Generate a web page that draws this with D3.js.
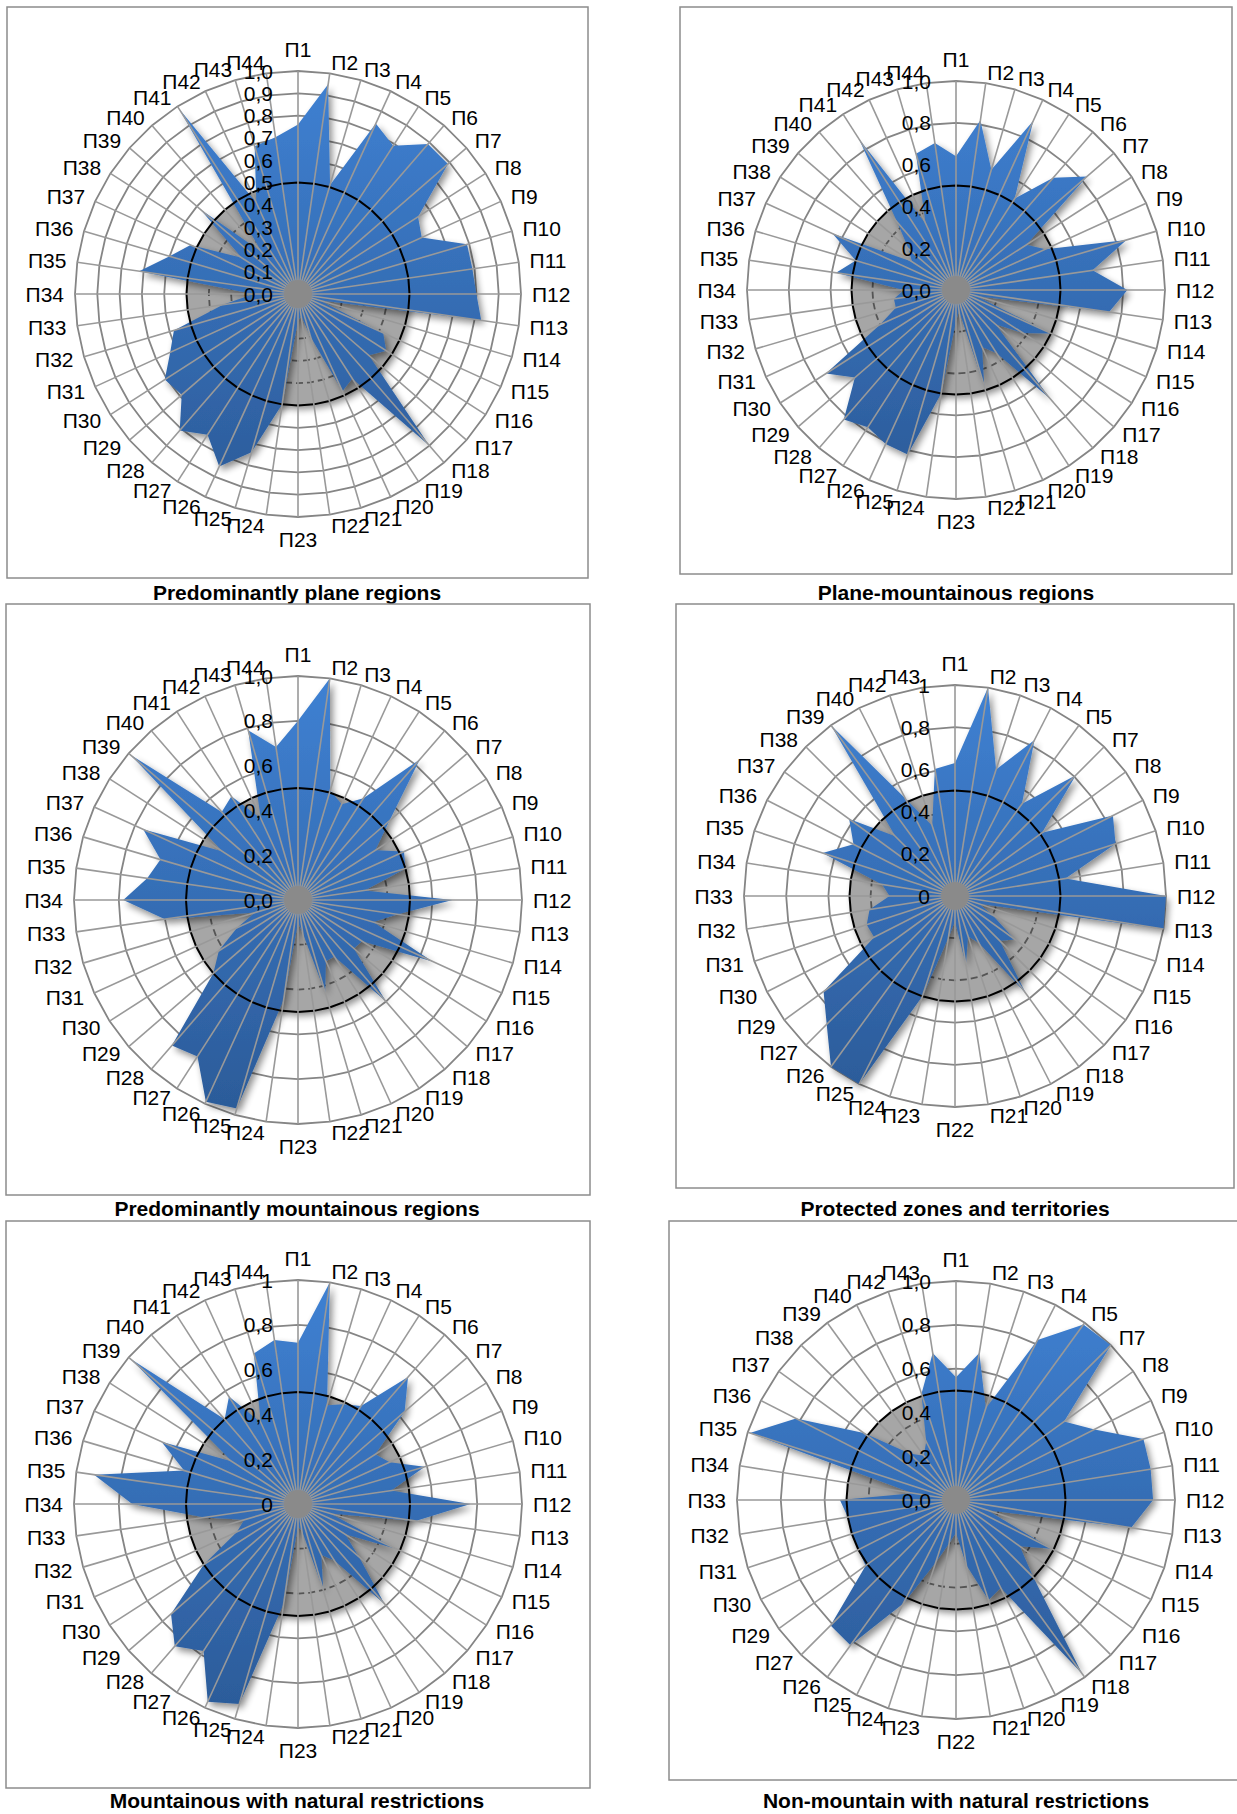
<!DOCTYPE html>
<html lang="en">

<head>
    <meta charset="utf-8"/>
    <script src="https://d3js.org/d3.v7.min.js"></script>
    <style>
        body { margin: 0; background: #fff; }
        svg text { font-family: "Liberation Sans", Arial, sans-serif; fill: #000; }
    </style>
</head>
<body>

<script>
    // Category labels (two charts skip П6, П28, П41, П44)
    var cats44 = ["П1","П2","П3","П4","П5","П6","П7","П8","П9","П10","П11","П12","П13","П14","П15",
        "П16","П17","П18","П19","П20","П21","П22","П23","П24","П25","П26","П27","П28","П29","П30",
        "П31","П32","П33","П34","П35","П36","П37","П38","П39","П40","П41","П42","П43","П44"];
    var cats40 = ["П1","П2","П3","П4","П5","П7","П8","П9","П10","П11","П12","П13","П14","П15","П16",
        "П17","П18","П19","П20","П21","П22","П23","П24","П25","П26","П27","П29","П30","П31","П32",
        "П33","П34","П35","П36","П37","П38","П39","П40","П42","П43"];

    // Series values
    var plainRegions = [0.76, 0.95, 0.51, 0.84, 0.79, 0.89, 0.89, 0.64, 0.61, 0.79,
        0.79, 0.80, 0.83, 0.10, 0.42, 0.47, 0.42, 0.90, 0.45, 0.48,
        0.20, 0.10, 0.12, 0.50, 0.74, 0.85, 0.75, 0.81, 0.69, 0.71,
        0.63, 0.58, 0.34, 0.20, 0.72, 0.60, 0.53, 0.30, 0.58, 0.25,
        0.99, 0.45, 0.69, 0.71];
    var planeMountainous = [0.64, 0.82, 0.60, 0.89, 0.52, 0.71, 0.83, 0.40, 0.47, 0.85,
        0.66, 0.82, 0.74, 0.10, 0.50, 0.38, 0.25, 0.69, 0.36, 0.30,
        0.48, 0.10, 0.15, 0.50, 0.82, 0.81, 0.78, 0.82, 0.64, 0.74,
        0.40, 0.30, 0.30, 0.25, 0.58, 0.50, 0.65, 0.25, 0.30, 0.43,
        0.86, 0.35, 0.68, 0.71];
    var mountainousRegions = [0.80, 1.00, 0.51, 0.47, 0.54, 0.83, 0.54, 0.41, 0.52, 0.50,
        0.30, 0.69, 0.45, 0.35, 0.66, 0.34, 0.33, 0.60, 0.30, 0.30,
        0.43, 0.15, 0.10, 0.45, 0.97, 0.99, 0.83, 0.86, 0.50, 0.42,
        0.30, 0.20, 0.60, 0.78, 0.68, 0.64, 0.76, 0.40, 0.99, 0.52,
        0.55, 0.40, 0.79, 0.69];
    var protectedZones = [0.63, 1.00, 0.63, 0.83, 0.54, 0.81, 0.51, 0.84, 0.80, 0.53,
        1.00, 1.00, 0.12, 0.20, 0.35, 0.30, 0.57, 0.25, 0.20, 0.33,
        0.12, 0.20, 0.50, 1.00, 1.00, 0.86, 0.77, 0.43, 0.44, 0.41,
        0.31, 0.35, 0.66, 0.54, 0.62, 0.40, 1.00, 0.52, 0.35, 0.61];
    var mountainousRestricted = [0.72, 1.00, 0.46, 0.49, 0.52, 0.75, 0.63, 0.41, 0.45, 0.59,
        0.42, 0.77, 0.53, 0.15, 0.48, 0.25, 0.36, 0.59, 0.30, 0.25,
        0.40, 0.12, 0.10, 0.45, 0.93, 0.97, 0.78, 0.84, 0.75, 0.50,
        0.30, 0.25, 0.42, 0.74, 0.92, 0.53, 0.67, 0.35, 0.99, 0.50,
        0.57, 0.40, 0.70, 0.74];
    var nonMountainRestricted = [0.56, 0.68, 0.44, 0.82, 0.99, 1.00, 0.61, 0.71, 0.90, 0.90,
        0.90, 0.81, 0.15, 0.49, 0.36, 0.50, 0.98, 0.45, 0.48, 0.30,
        0.15, 0.20, 0.30, 0.53, 0.82, 0.81, 0.51, 0.50, 0.50, 0.50,
        0.53, 0.20, 0.99, 0.82, 0.52, 0.30, 0.25, 0.30, 0.51, 0.68];

    // The grey reference series
    var thresholdValue = 0.5;

    // Value axis tick labels
    var ticksTenth = ["0,0","0,1","0,2","0,3","0,4","0,5","0,6","0,7","0,8","0,9","1,0"];
    var ticksFifth = ["0,0","0,2","0,4","0,6","0,8","1,0"];
    var ticksFifthShort = ["0","0,2","0,4","0,6","0,8","1"];

    var titles = ["Predominantly plane regions", "Plane-mountainous regions",
        "Predominantly mountainous regions", "Protected zones and territories",
        "Mountainous with natural restrictions", "Non-mountain with natural restrictions"];

    // Layout of the six panels
    var panels = [
        {title: titles[0], cats: cats44, values: plainRegions, ticks: ticksTenth,
            box: [7, 7, 588, 578], cx: 298, cy: 294, r: 223, tx: 297, ty: 592},
        {title: titles[1], cats: cats44, values: planeMountainous, ticks: ticksFifth,
            box: [680, 7, 1232, 574], cx: 956, cy: 290, r: 209, tx: 956, ty: 592},
        {title: titles[2], cats: cats44, values: mountainousRegions, ticks: ticksFifth,
            box: [6, 604, 590, 1195], cx: 298, cy: 900, r: 224, tx: 297, ty: 1208},
        {title: titles[3], cats: cats40, values: protectedZones, ticks: ticksFifthShort,
            box: [676, 604, 1234, 1188], cx: 955, cy: 896, r: 211, tx: 955, ty: 1208},
        {title: titles[4], cats: cats44, values: mountainousRestricted, ticks: ticksFifthShort,
            box: [6, 1221, 590, 1788], cx: 298, cy: 1504, r: 224, tx: 297, ty: 1800},
        {title: titles[5], cats: cats40, values: nonMountainRestricted, ticks: ticksFifth,
            box: [669, 1221, 1240, 1780], cx: 956, cy: 1500, r: 219, tx: 956, ty: 1800}
    ];

    var width = 1237;
    var height = 1814;

    var svg = d3.select("body")
        .append("svg")
        .attr("width", width)
        .attr("height", height);

    var defs = svg.append("defs");

    // soft drop shadow used by both filled series
    var shadow = defs.append("filter")
        .attr("id", "shadow")
        .attr("x", "-20%").attr("y", "-20%")
        .attr("width", "140%").attr("height", "140%");
    shadow.append("feGaussianBlur").attr("in", "SourceAlpha").attr("stdDeviation", 3.5);
    shadow.append("feOffset").attr("dx", 3).attr("dy", 4).attr("result", "off");
    shadow.append("feComponentTransfer").append("feFuncA").attr("type", "linear").attr("slope", 0.45);
    var merge = shadow.append("feMerge");
    merge.append("feMergeNode");
    merge.append("feMergeNode").attr("in", "SourceGraphic");

    function drawRadar(p, idx) {
        var n = p.cats.length;
        var angle = d3.scaleLinear().domain([0, n]).range([0, 2 * Math.PI]);
        var radius = d3.scaleLinear().domain([0, 1]).range([0, p.r]);
        var tickVals = p.ticks.map(function(t) { return +t.replace(",", "."); });

        // blue gradient, lighter at the top
        var grad = defs.append("linearGradient")
            .attr("id", "blue" + idx)
            .attr("gradientUnits", "userSpaceOnUse")
            .attr("x1", 0).attr("x2", 0)
            .attr("y1", -p.r).attr("y2", p.r);
        grad.append("stop").attr("offset", "0%").attr("stop-color", "#3f81d3");
        grad.append("stop").attr("offset", "100%").attr("stop-color", "#2b5a97");

        // panel border
        svg.append("rect")
            .attr("x", p.box[0]).attr("y", p.box[1])
            .attr("width", p.box[2] - p.box[0])
            .attr("height", p.box[3] - p.box[1])
            .attr("fill", "none")
            .attr("stroke", "#8c8c8c")
            .attr("stroke-width", 1.5);

        var g = svg.append("g")
            .attr("transform", "translate(" + p.cx + "," + p.cy + ")");

        function ringPath(v) {
            return d3.lineRadial()
                .angle(function(d, j) { return angle(j); })
                .radius(radius(v))
                .curve(d3.curveLinearClosed)(p.cats);
        }

        // outer grid rings
        g.selectAll("path.ring")
            .data(tickVals.filter(function(v) { return v > thresholdValue; }))
            .enter()
            .append("path")
            .attr("class", "ring")
            .attr("d", ringPath)
            .attr("fill", "none")
            .attr("stroke", "#858585")
            .attr("stroke-width", 1.8);

        // grey reference area
        g.append("path")
            .attr("d", ringPath(thresholdValue))
            .attr("fill", "#a6a6a6")
            .attr("filter", "url(#shadow)");

        // inner rings, darker over the grey
        g.selectAll("path.inner")
            .data(tickVals.filter(function(v) { return v > 0 && v < thresholdValue; }))
            .enter()
            .append("path")
            .attr("class", "inner")
            .attr("d", ringPath)
            .attr("fill", "none")
            .attr("stroke", "#555")
            .attr("stroke-width", 1.8)
            .attr("stroke-dasharray", "7,4");

        // the data series
        var area = d3.lineRadial()
            .angle(function(d, j) { return angle(j); })
            .radius(function(d) { return radius(d); })
            .curve(d3.curveLinearClosed);
        g.append("path")
            .attr("d", area(p.values))
            .attr("fill", "url(#blue" + idx + ")")
            .attr("filter", "url(#shadow)");

        // black outline of the reference series
        g.append("path")
            .attr("d", ringPath(thresholdValue))
            .attr("fill", "none")
            .attr("stroke", "#000")
            .attr("stroke-width", 2);

        // spokes
        g.selectAll("line.spoke")
            .data(p.cats)
            .enter()
            .append("line")
            .attr("x1", 0).attr("y1", 0)
            .attr("x2", function(d, j) { return radius(1) * Math.sin(angle(j)); })
            .attr("y2", function(d, j) { return -radius(1) * Math.cos(angle(j)); })
            .attr("stroke", "#999")
            .attr("stroke-width", 1.6);

        g.append("circle").attr("r", 14).attr("fill", "#8a8a8a");

        // value axis labels
        g.selectAll("text.tick")
            .data(p.ticks)
            .enter()
            .append("text")
            .attr("x", -25)
            .attr("y", function(d, j) { return -radius(tickVals[j]); })
            .attr("text-anchor", "end")
            .attr("dominant-baseline", "central")
            .attr("font-size", 21)
            .text(function(d) { return d; });

        // category labels round the outside: inner edge of the label on the anchor point
        var labelDist = radius(1) + 11;
        g.selectAll("text.cat")
            .data(p.cats)
            .enter()
            .append("text")
            .attr("font-size", 21)
            .attr("dominant-baseline", "central")
            .each(function(d, j) {
                var a = angle(j);
                var s = Math.sin(a), c = Math.cos(a);
                var anchor = s > 0.01 ? "start" : (s < -0.01 ? "end" : "middle");
                var extra = anchor === "middle" ? 11 : 0;
                d3.select(this)
                    .attr("text-anchor", anchor)
                    .attr("x", labelDist * s)
                    .attr("y", -(labelDist + extra) * c);
            })
            .text(function(d) { return d; });

        // panel title
        svg.append("text")
            .attr("x", p.tx)
            .attr("y", p.ty)
            .attr("text-anchor", "middle")
            .attr("dominant-baseline", "central")
            .attr("font-size", 21)
            .attr("font-weight", "bold")
            .text(p.title);
    }

    panels.forEach(drawRadar);
</script>
</body>
</html>
